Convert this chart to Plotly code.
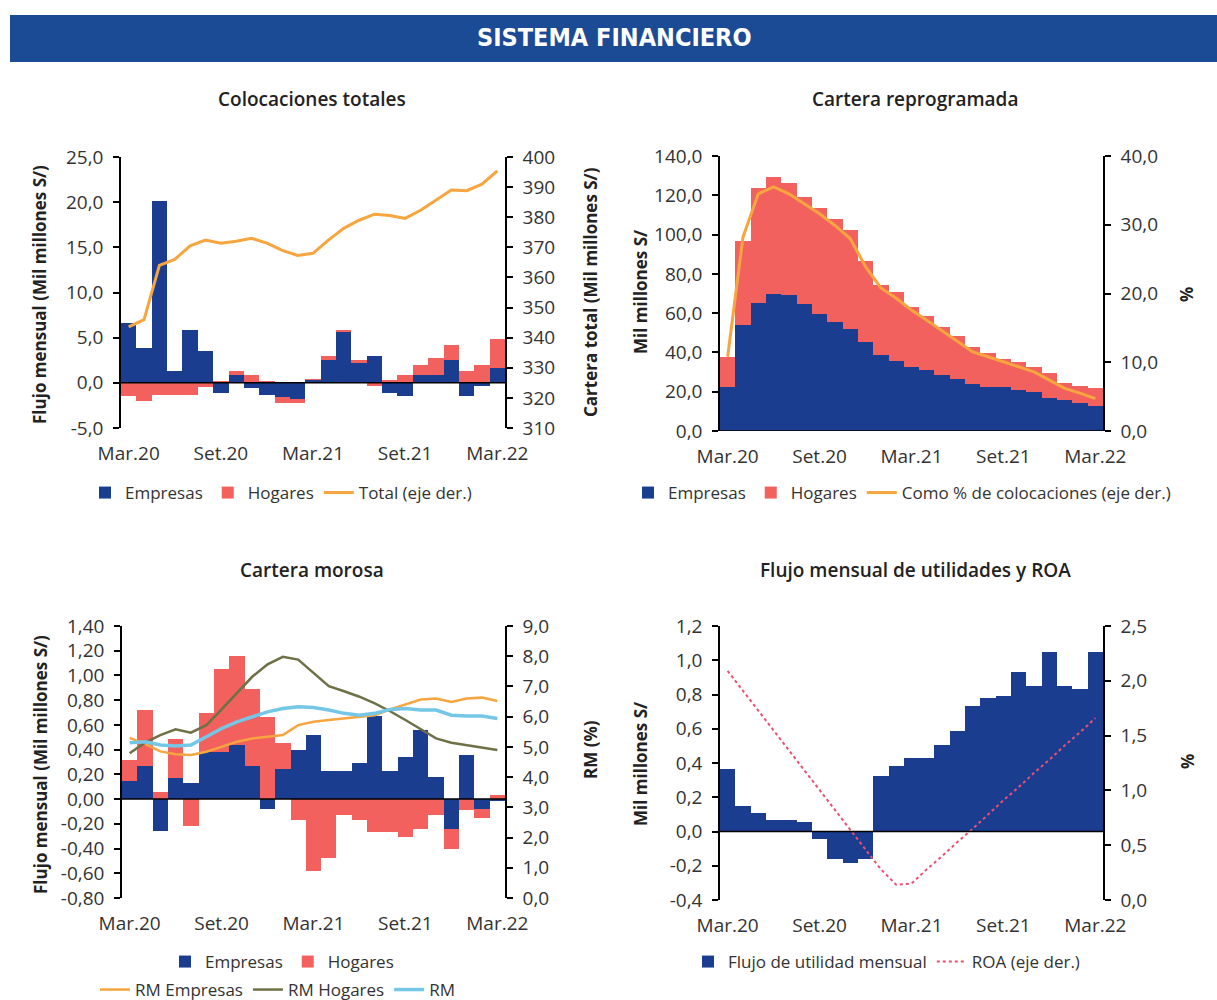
import plotly.graph_objects as go

# ---------------------------------------------------------------------------
# Data (monthly Mar.20 - Mar.22)
# ---------------------------------------------------------------------------
MESES = ["Mar.20", "Abr.20", "May.20", "Jun.20", "Jul.20", "Ago.20", "Set.20",
         "Oct.20", "Nov.20", "Dic.20", "Ene.21", "Feb.21", "Mar.21", "Abr.21",
         "May.21", "Jun.21", "Jul.21", "Ago.21", "Set.21", "Oct.21", "Nov.21",
         "Dic.21", "Ene.22", "Feb.22", "Mar.22"]
TICKS = ["Mar.20", "Set.20", "Mar.21", "Set.21", "Mar.22"]

# left-axis tick labels that carry negatives (hyphen as in the source)
Y1_VALS = [-5, 0, 5, 10, 15, 20, 25]
Y1_TEXT = ["-5,0", "0,0", "5,0", "10,0", "15,0", "20,0", "25,0"]
Y5_VALS = [-0.8, -0.6, -0.4, -0.2, 0, 0.2, 0.4, 0.6, 0.8, 1.0, 1.2, 1.4]
Y5_TEXT = ["-0,80", "-0,60", "-0,40", "-0,20", "0,00", "0,20", "0,40", "0,60", "0,80",
           "1,00", "1,20", "1,40"]
Y7_VALS = [-0.4, -0.2, 0, 0.2, 0.4, 0.6, 0.8, 1.0, 1.2]
Y7_TEXT = ["-0,4", "-0,2", "0,0", "0,2", "0,4", "0,6", "0,8", "1,0", "1,2"]

# Colocaciones totales
col_empresas = [6.6, 3.9, 20.1, 1.3, 5.9, 3.5, -1.1, 0.85, -0.55, -1.35, -1.6, -1.8, 0.35,
                2.55, 5.7, 2.25, 3.0, -1.1, -1.5, 0.85, 0.85, 2.55, -1.5, -0.3, 1.6]
col_hogares = [-1.5, -2.0, -1.3, -1.3, -1.3, -0.5, 0.1, 0.5, 0.85, 0.1, -0.6, -0.4, 0.05,
               0.45, 0.2, 0.3, -0.35, 0.35, 0.85, 1.15, 1.95, 1.65, 1.3, 2.0, 3.3]
col_total = [343.6, 346.0, 364.0, 366.0, 370.5, 372.4, 371.4, 372.0, 373.0, 371.4, 369.0,
             367.3, 368.0, 372.4, 376.3, 379.0, 381.0, 380.6, 379.6, 382.3, 385.6, 389.0,
             388.8, 391.0, 395.4]

# Cartera reprogramada
rep_empresas = [22.5, 54.2, 65.3, 70.0, 69.2, 64.6, 59.8, 55.6, 51.9, 45.1, 38.6, 35.6, 32.7,
                31.0, 28.5, 26.3, 23.7, 22.5, 22.5, 20.8, 19.7, 17.0, 15.8, 14.1, 12.9]
rep_hogares = [15.0, 42.6, 58.4, 59.3, 57.1, 54.6, 53.8, 52.4, 50.6, 41.5, 35.6, 35.2, 30.2,
               27.6, 24.5, 22.2, 19.2, 17.0, 14.4, 14.5, 13.0, 12.3, 8.8, 8.8, 8.8]
rep_pct = [10.8, 28.2, 34.5, 35.5, 34.5, 33.1, 31.6, 29.9, 28.0, 23.9, 20.8, 19.3, 17.6,
           16.1, 14.6, 13.0, 11.5, 10.8, 10.1, 9.4, 8.6, 7.4, 6.2, 5.5, 4.7]

# Cartera morosa
mor_empresas = [0.15, 0.27, -0.26, 0.17, 0.13, 0.38, 0.38, 0.44, 0.27, -0.08, 0.24, 0.40, 0.52,
                0.23, 0.23, 0.29, 0.67, 0.23, 0.34, 0.56, 0.18, -0.24, 0.36, -0.08, -0.01]
mor_hogares = [0.17, 0.45, 0.06, 0.32, -0.22, 0.32, 0.67, 0.72, 0.62, 0.66, 0.21, -0.17, -0.58,
               -0.48, -0.13, -0.17, -0.27, -0.27, -0.31, -0.24, -0.13, -0.16, -0.09, -0.07, 0.03]
rm_empresas = [5.3, 5.1, 4.85, 4.76, 4.73, 4.84, 5.0, 5.17, 5.28, 5.33, 5.39, 5.72, 5.83,
               5.89, 5.94, 6.0, 6.05, 6.24, 6.4, 6.57, 6.6, 6.49, 6.6, 6.63, 6.52]
rm_hogares = [4.79, 5.14, 5.39, 5.58, 5.47, 5.72, 6.24, 6.79, 7.32, 7.73, 7.98, 7.89, 7.45,
              7.01, 6.84, 6.66, 6.44, 6.18, 5.89, 5.58, 5.28, 5.14, 5.06, 4.98, 4.9]
rm_total = [5.14, 5.17, 5.06, 5.03, 5.06, 5.34, 5.61, 5.83, 6.0, 6.16, 6.27, 6.33, 6.3,
            6.22, 6.11, 6.05, 6.11, 6.24, 6.27, 6.22, 6.22, 6.05, 6.02, 6.02, 5.94]

# Flujo mensual de utilidades y ROA
utilidad = [0.366, 0.148, 0.109, 0.07, 0.068, 0.054, -0.043, -0.16, -0.185, -0.16, 0.327,
            0.38, 0.43, 0.43, 0.506, 0.584, 0.735, 0.778, 0.79, 0.93, 0.852, 1.047, 0.852,
            0.83, 1.047]
roa = [2.09, 1.91, 1.73, 1.55, 1.37, 1.19, 1.01, 0.83, 0.64, 0.47, 0.28, 0.14, 0.15, 0.28,
       0.40, 0.53, 0.65, 0.78, 0.91, 1.03, 1.16, 1.28, 1.41, 1.53, 1.66]

# ---------------------------------------------------------------------------
W, H = 1217, 1000
NAVY = "#1b3d8f"
CORAL = "#f2615e"
ORANGE = "#f6a53f"
OLIVE = "#6e7046"
SKY = "#74c7e6"
ROSE = "#ec4f72"
FONT = "Open Sans"
TXT = "#333333"


def px(x):
    return x / W


def py(y):
    return 1 - y / H


fig = go.Figure()

# panel 1
fig.add_trace(go.Bar(x=MESES, y=col_empresas, name="Empresas", marker=dict(color=NAVY, line_width=0),
                     xaxis="x", yaxis="y", legend="legend"))
fig.add_trace(go.Bar(x=MESES, y=col_hogares, name="Hogares", marker=dict(color=CORAL, line_width=0),
                     xaxis="x", yaxis="y", legend="legend"))
fig.add_trace(go.Scatter(x=MESES, y=col_total, name="Total (eje der.)", mode="lines",
                         line=dict(color=ORANGE, width=3), xaxis="x", yaxis="y2", legend="legend"))
# panel 2
fig.add_trace(go.Bar(x=MESES, y=rep_empresas, name="Empresas", marker=dict(color=NAVY, line_width=0),
                     xaxis="x2", yaxis="y3", legend="legend2"))
fig.add_trace(go.Bar(x=MESES, y=rep_hogares, name="Hogares", marker=dict(color=CORAL, line_width=0),
                     xaxis="x2", yaxis="y3", legend="legend2"))
fig.add_trace(go.Scatter(x=MESES, y=rep_pct, name="Como % de colocaciones (eje der.)", mode="lines",
                         line=dict(color=ORANGE, width=3), xaxis="x2", yaxis="y4", legend="legend2"))
# panel 3
fig.add_trace(go.Bar(x=MESES, y=mor_empresas, name="Empresas", marker=dict(color=NAVY, line_width=0),
                     xaxis="x3", yaxis="y5", legend="legend3"))
fig.add_trace(go.Bar(x=MESES, y=mor_hogares, name="Hogares", marker=dict(color=CORAL, line_width=0),
                     xaxis="x3", yaxis="y5", legend="legend3"))
fig.add_trace(go.Scatter(x=MESES, y=rm_empresas, name="RM Empresas", mode="lines",
                         line=dict(color=ORANGE, width=2.5), xaxis="x3", yaxis="y6", legend="legend5"))
fig.add_trace(go.Scatter(x=MESES, y=rm_hogares, name="RM Hogares", mode="lines",
                         line=dict(color=OLIVE, width=2.5), xaxis="x3", yaxis="y6", legend="legend5"))
fig.add_trace(go.Scatter(x=MESES, y=rm_total, name="RM", mode="lines",
                         line=dict(color=SKY, width=3.5), xaxis="x3", yaxis="y6", legend="legend5"))
# panel 4
fig.add_trace(go.Bar(x=MESES, y=utilidad, name="Flujo de utilidad mensual",
                     marker=dict(color=NAVY, line_width=0), xaxis="x4", yaxis="y7", legend="legend4"))
fig.add_trace(go.Scatter(x=MESES, y=roa, name="ROA (eje der.)", mode="lines",
                         line=dict(color=ROSE, width=2, dash="dot"), xaxis="x4", yaxis="y8",
                         legend="legend4"))

tickfont = dict(family=FONT, size=19, color=TXT)


def xax(x0, x1, anchor):
    return dict(domain=[px(x0), px(x1)], anchor=anchor, type="category",
                range=[-0.5, len(MESES) - 0.5], tickvals=TICKS, ticktext=TICKS,
                ticks="", showline=False, showgrid=False, zeroline=False,
                tickfont=tickfont, ticklabelstandoff=12)


def yax(y0, y1, rng, dtick, fmt, anchor, side="left", overlay=None, vals=None, text=None):
    d = dict(range=rng, dtick=dtick, tickformat=fmt, anchor=anchor, side=side,
             showline=True, linecolor="black", linewidth=1.5, ticks="outside",
             ticklen=6, tickwidth=1.5, tickcolor="black", showgrid=False,
             zeroline=False, tickfont=tickfont, ticklabelstandoff=6)
    if vals is not None:
        d.update(tickmode="array", tickvals=vals, ticktext=text)
    if overlay:
        d["overlaying"] = overlay
    else:
        d["domain"] = [py(y1), py(y0)]
    return d


fig.update_layout(
    xaxis=xax(121, 505, "y"),
    yaxis=yax(157, 428, [-5, 25], 5, ".1f", "x", vals=Y1_VALS, text=Y1_TEXT),
    yaxis2=yax(157, 428, [310, 400], 10, "d", "x", "right", "y"),
    xaxis2=xax(720, 1103, "y3"),
    yaxis3=yax(156, 431, [0, 140], 20, ".1f", "x2"),
    yaxis4=yax(156, 431, [0, 40], 10, ".1f", "x2", "right", "y3"),
    xaxis3=xax(122, 505, "y5"),
    yaxis5=yax(626, 898, [-0.8, 1.4], 0.2, ".2f", "x3", vals=Y5_VALS, text=Y5_TEXT),
    yaxis6=yax(626, 898, [0, 9], 1, ".1f", "x3", "right", "y5"),
    xaxis4=xax(720, 1103, "y7"),
    yaxis7=yax(626, 900, [-0.4, 1.2], 0.2, ".1f", "x4", vals=Y7_VALS, text=Y7_TEXT),
    yaxis8=yax(626, 900, [0, 2.5], 0.5, ".1f", "x4", "right", "y7"),
)

legfont = dict(family=FONT, size=17, color=TXT)
legbase = dict(orientation="h", xanchor="left", yanchor="middle", font=legfont,
               bgcolor="rgba(0,0,0,0)", itemwidth=30, tracegroupgap=0)
fig.update_layout(
    legend=dict(legbase, x=px(85), y=py(493)),
    legend2=dict(legbase, x=px(628), y=py(493)),
    legend3=dict(legbase, x=px(165), y=py(962)),
    legend5=dict(legbase, x=px(95), y=py(990)),
    legend4=dict(legbase, x=px(688), y=py(962)),
)

# banner + zero lines
shapes = [dict(type="rect", xref="paper", yref="paper", x0=px(10), x1=1, y0=py(62), y1=py(15),
               fillcolor="#1c4b96", line_width=0, layer="below")]
for xr, yr in [("x", "y"), ("x2", "y3"), ("x3", "y5"), ("x4", "y7")]:
    shapes.append(dict(type="line", xref=xr + " domain", yref=yr, x0=0, x1=1, y0=0, y1=0,
                       line=dict(color="black", width=1.5), layer="above"))
fig.update_layout(shapes=shapes)

ann = [dict(text="<b>SISTEMA FINANCIERO</b>", x=px(614), y=py(37),
            font=dict(family="DejaVu Sans Condensed", size=25, color="white"))]
titles = [("Colocaciones totales", 312, 99), ("Cartera reprogramada", 915, 99),
          ("Cartera morosa", 312, 570), ("Flujo mensual de utilidades y ROA", 915, 570)]
for t, x, y in titles:
    ann.append(dict(text=t, x=px(x), y=py(y), font=dict(family=FONT, size=19, color="#222", weight=600)))
axtitles = [("Flujo mensual (Mil millones S/)", 40, 295), ("Cartera total (Mil millones S/)", 590, 292),
            ("Mil millones S/", 640, 292), ("%", 1187, 295),
            ("Flujo mensual (Mil millones S/)", 40, 765), ("RM (%)", 590, 750),
            ("Mil millones S/", 640, 764), ("%", 1187, 762)]
for t, x, y in axtitles:
    ann.append(dict(text="<b>" + t + "</b>", x=px(x), y=py(y), textangle=-90,
                    font=dict(family=FONT, size=17, color="#222")))
for a in ann:
    a.update(xref="paper", yref="paper", showarrow=False, xanchor="center", yanchor="middle")
fig.update_layout(annotations=ann)

fig.update_layout(
    width=W, height=H, margin=dict(l=0, r=0, t=0, b=0, autoexpand=False),
    paper_bgcolor="white", plot_bgcolor="rgba(0,0,0,0)",
    barmode="relative", bargap=0, separators=",.",
    font=dict(family=FONT, color=TXT),
)

fig.write_html("out.html", config={"displayModeBar": False},
               post_script="document.body.style.margin='0';")
